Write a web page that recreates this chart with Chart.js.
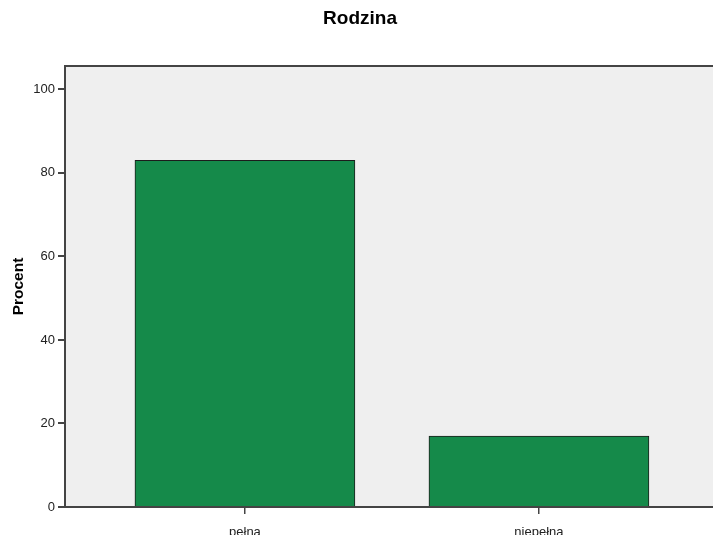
<!DOCTYPE html>
<html>
<head>
<meta charset="utf-8">
<script src="https://cdn.jsdelivr.net/npm/chart.js@4"></script>
<style>
  html, body { margin: 0; padding: 0; background: #fff; overflow: hidden; }
  #wrap { width: 713px; height: 535px; }
</style>
</head>
<body>
<div id="wrap"><canvas id="dataGraph"></canvas></div>
<script>
// dane wykresu
const kategorie = ['pełna', 'niepełna'];
const procent = [83.0, 17.0];
const yTicks = [0, 20, 40, 60, 80, 100];

const tlo = {
    id: 'tlo',
    beforeDraw(chart) {
        const { ctx, chartArea: a } = chart;
        ctx.save();
        ctx.fillStyle = '#fff';
        ctx.fillRect(0, 0, chart.width, chart.height);
        ctx.fillStyle = '#efefef';
        ctx.fillRect(a.left, a.top, a.right - a.left, a.bottom - a.top);
        ctx.strokeStyle = '#444';
        ctx.lineWidth = 2;
        ctx.beginPath();
        ctx.moveTo(a.left, a.top);
        ctx.lineTo(a.right, a.top);
        ctx.stroke();
        ctx.restore();
    }
};

const czcionka = 'Arial, "Liberation Sans", sans-serif';

window.onload = function() {
    const ctx = document.getElementById('dataGraph').getContext('2d');
    new Chart(ctx, {
        type: 'bar',
        data: {
            datasets: [{
                label: 'Procent',
                data: kategorie.map((k, i) => ({ x: i, y: procent[i] })),
                backgroundColor: '#158a4a',
                borderColor: '#1c1c1c',
                borderWidth: 1,
                barThickness: 220
            }]
        },
        options: {
            responsive: true,
            maintainAspectRatio: false,
            animation: false,
            layout: { padding: { left: 7, right: 0, top: 0, bottom: 0 } },
            plugins: {
                legend: { display: false },
                tooltip: { enabled: false },
                title: {
                    display: true,
                    text: 'Rodzina',
                    color: '#000',
                    font: { family: czcionka, size: 19, weight: 'bold' },
                    padding: { top: 7.6, bottom: 35.6 }
                }
            },
            scales: {
                x: {
                    type: 'linear',
                    offset: false,
                    min: -0.612,
                    max: 1.592,
                    afterBuildTicks: s => { s.ticks = kategorie.map((k, i) => ({ value: i })); },
                    afterFit: s => { s.height = 28; },
                    ticks: {
                        callback: v => kategorie[v] ?? '',
                        color: '#222',
                        font: { family: czcionka, size: 13 },
                        padding: 11,
                        maxRotation: 0
                    },
                    grid: { offset: false, drawOnChartArea: false, drawTicks: true, tickLength: 7, color: '#444', lineWidth: 1.5 },
                    border: { display: true, color: '#444', width: 2 }
                },
                y: {
                    min: 0,
                    max: 105.6,
                    afterBuildTicks: s => { s.ticks = yTicks.map(v => ({ value: v })); },
                    afterFit: s => { s.width = 58; },
                    ticks: {
                        color: '#222',
                        font: { family: czcionka, size: 13 },
                        padding: 3
                    },
                    grid: { drawOnChartArea: false, drawTicks: true, tickLength: 7, color: '#444', lineWidth: 2 },
                    border: { display: true, color: '#444', width: 2 },
                    title: {
                        display: true,
                        text: 'Procent',
                        color: '#000',
                        font: { family: czcionka, size: 15.5, weight: 'bold' },
                        padding: { top: 2, bottom: 4 }
                    }
                }
            }
        },
        plugins: [tlo]
    });
};
</script>
</body>
</html>
